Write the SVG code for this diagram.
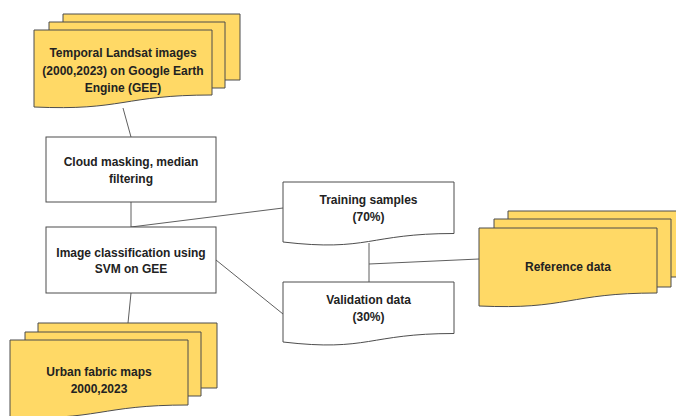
<svg xmlns="http://www.w3.org/2000/svg" width="676" height="416" viewBox="0 0 676 416">
  <style>
    .page { fill: #ffd966; stroke: #4d4d4d; stroke-width: 1; }
    .box { fill: #ffffff; stroke: #4d4d4d; stroke-width: 1; }
    .edge { fill: none; stroke: #5f5f5f; stroke-width: 1; }
    .lbl { font-family: "Liberation Sans", Arial, sans-serif; font-size: 12px; font-weight: bold; fill: #222222; text-anchor: middle; }
  </style>
  <rect width="676" height="416" fill="#ffffff"/>

  <g id="connectors">
    <line class="edge" x1="123" y1="108" x2="131" y2="137"/>
    <line class="edge" x1="131" y1="202" x2="131" y2="227"/>
    <line class="edge" x1="131" y1="227" x2="283" y2="208"/>
    <line class="edge" x1="216" y1="260" x2="283" y2="314"/>
    <line class="edge" x1="131" y1="293" x2="128" y2="323"/>
    <line class="edge" x1="369" y1="243" x2="369" y2="282"/>
    <line class="edge" x1="369" y1="264" x2="479" y2="259"/>
  </g>

  <g id="landsat-images">
    <path class="page" d="M63,14 H240 V80 H63 Z"/>
    <path class="page" d="M49,22 H225 V88 H49 Z"/>
    <path class="page" d="M34,30 H212 V95 C123,95 123,111 34,107 Z"/>
    <text class="lbl" x="123" y="57">Temporal Landsat images</text>
    <text class="lbl" x="123" y="74.5">(2000,2023) on Google Earth</text>
    <text class="lbl" x="123" y="92">Engine (GEE)</text>
  </g>

  <g id="cloud-masking">
    <rect class="box" x="46" y="137" width="170" height="65"/>
    <text class="lbl" x="131" y="166">Cloud masking, median</text>
    <text class="lbl" x="131" y="182.5">filtering</text>
  </g>

  <g id="classification">
    <rect class="box" x="46" y="227" width="170" height="66"/>
    <text class="lbl" x="131" y="257">Image classification using</text>
    <text class="lbl" x="131" y="272.5">SVM on GEE</text>
  </g>

  <g id="training-samples">
    <path class="box" d="M283,182 H454 V233.5 C368.5,233.5 368.5,252 283,242 Z"/>
    <text class="lbl" x="368.5" y="203.5">Training samples</text>
    <text class="lbl" x="368.5" y="221">(70%)</text>
  </g>

  <g id="validation-data">
    <path class="box" d="M283,282 H454 V333.5 C368.5,333.5 368.5,352 283,342 Z"/>
    <text class="lbl" x="368.5" y="304">Validation data</text>
    <text class="lbl" x="368.5" y="321">(30%)</text>
  </g>

  <g id="reference-data">
    <path class="page" d="M508,211 H686 V277 H508 Z"/>
    <path class="page" d="M494,219 H671 V287 H494 Z"/>
    <path class="page" d="M479,228 H657 V293 C568,293 568,310 479,306 Z"/>
    <text class="lbl" x="568" y="271">Reference data</text>
  </g>

  <g id="urban-fabric-maps">
    <path class="page" d="M38,323 H217 V388 H38 Z"/>
    <path class="page" d="M25,332 H201 V396 H25 Z"/>
    <path class="page" d="M10,340 H188 V405 C99,405 99,421 10,417 Z"/>
    <text class="lbl" x="99" y="376">Urban fabric maps</text>
    <text class="lbl" x="99" y="392.5">2000,2023</text>
  </g>
</svg>
